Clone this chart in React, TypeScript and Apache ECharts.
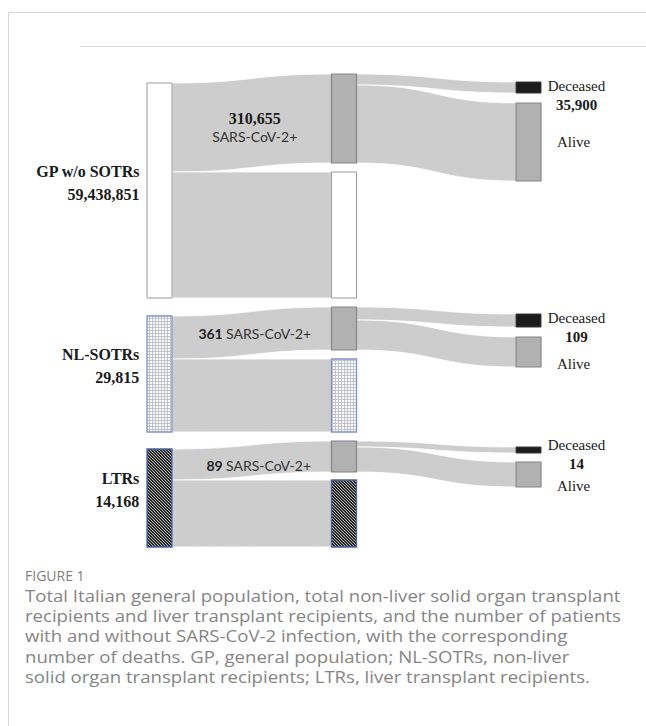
import React, { useEffect, useRef } from "react";
import * as echarts from "echarts";

// ---- data ----
const groupNames = ["GP w/o SOTRs", "NL-SOTRs", "LTRs"];
const groupTotals = ["59,438,851", "29,815", "14,168"];
const positiveCounts = ["310,655", "361", "89"];
const deathCounts = ["35,900", "109", "14"];
const positiveLabel = "SARS-CoV-2+";
const outcomeNames = ["Deceased", "Alive"];

// band thicknesses as drawn (the figure is schematic, not to scale)
const toPositive = [89, 43, 31];
const toNegative = [126, 73, 67];
const positiveToDeceased = [11, 13, 6];
const positiveToAlive = [78, 30, 25];

const captionTitle = "FIGURE 1";
const captionLines = [
  "Total Italian general population, total non-liver solid organ transplant",
  "recipients and liver transplant recipients, and the number of patients",
  "with and without SARS-CoV-2 infection, with the corresponding",
  "number of deaths. GP, general population; NL-SOTRs, non-liver",
  "solid organ transplant recipients; LTRs, liver transplant recipients.",
];

// ---- layout constants ----
const sectionTop = [74, 307, 441];
const sectionGap = [9, 9, 8];
const rightOffset = [8, 7, 6];
const rightGap = [10, 10, 9];
const decLabelDy = [-5.5, -5, -11];
const aliveLabelDy = [0, 12, 11];
const edgeLabelOffset = [
  [3, 4],
  [3, 0],
  [7, 4.5],
];

const SERIF = "'Liberation Serif', 'Times New Roman', serif";
const SANS = "Lato, 'Open Sans', sans-serif";

function makePattern(size: number, draw: (ctx: CanvasRenderingContext2D) => void) {
  const c = document.createElement("canvas");
  c.width = size;
  c.height = size;
  const ctx = c.getContext("2d")!;
  draw(ctx);
  return { image: c.toDataURL(), repeat: "repeat", imageWidth: size, imageHeight: size };
}

function buildSeries(i: number, fills: any[]) {
  const pos = toPositive[i];
  const neg = toNegative[i];
  const dec = positiveToDeceased[i];
  const alive = positiveToAlive[i];
  const gap = sectionGap[i];
  const posNode = Math.max(pos, dec + alive);
  const col1 = pos + neg;
  const H = posNode + neg + gap;
  const id = (k: string) => `${k}${i}`;

  const greyNode = { color: "#b1b1b1", borderColor: "#858585", borderWidth: 1.2 };
  const blackNode = { color: "#1c1c1c", borderColor: "#3a3a3a", borderWidth: 1 };
  const groupStyle = fills[i];

  const nodes = [
    {
      name: id("g"),
      localY: (H - col1) / H,
      itemStyle: groupStyle,
      label: {
        show: true,
        position: "left",
        distance: 7,
        offset: [0, -8],
        formatter: `${groupNames[i]}\n${groupTotals[i]}`,
        fontFamily: SERIF,
        fontWeight: "bold",
        fontSize: 16,
        lineHeight: 23,
        color: "#1a1a1a",
        align: "right",
      },
    },
    { name: id("p"), itemStyle: greyNode },
    { name: id("n"), itemStyle: groupStyle },
    {
      name: id("d"),
      localY: rightOffset[i] / H,
      itemStyle: blackNode,
      label: {
        show: true,
        position: ["100%", 0],
        offset: [35, decLabelDy[i]],
        align: "center",
        verticalAlign: "top",
        formatter: `{d|${outcomeNames[0]}}\n{n|${deathCounts[i]}}`,
        rich: {
          d: { fontFamily: SERIF, fontSize: 15, lineHeight: 19, color: "#1a1a1a", align: "center" },
          n: { fontFamily: SERIF, fontSize: 15, fontWeight: "bold", lineHeight: 19, color: "#1a1a1a", align: "center" },
        },
      },
    },
    {
      name: id("a"),
      localY: (rightOffset[i] + dec + rightGap[i]) / H,
      itemStyle: greyNode,
      label: {
        show: true,
        position: ["100%", "50%"],
        offset: [32, aliveLabelDy[i]],
        align: "center",
        verticalAlign: "middle",
        formatter: outcomeNames[1],
        fontFamily: SERIF,
        fontSize: 15,
        color: "#1a1a1a",
      },
    },
  ];

  const edgeFormatter =
    i === 0
      ? `{g|${positiveCounts[i]}}\n{s|${positiveLabel}}`
      : `{b|${positiveCounts[i]}} {s|${positiveLabel}}`;

  const links = [
    {
      source: id("g"),
      target: id("p"),
      value: pos,
      edgeLabel: {
        show: true,
        formatter: edgeFormatter,
        offset: edgeLabelOffset[i],
        align: "center",
        rich: {
          g: { fontFamily: SERIF, fontWeight: "bold", fontSize: 16, lineHeight: 18, color: "#1a1a1a", align: "center" },
          s: { fontFamily: SANS, fontSize: 14, lineHeight: 18, color: "#333333", align: "center" },
          b: { fontFamily: SANS, fontWeight: "bold", fontSize: 14, lineHeight: 18, color: "#222222" },
        },
      },
    },
    { source: id("g"), target: id("n"), value: neg },
    { source: id("p"), target: id("d"), value: dec },
    { source: id("p"), target: id("a"), value: alive },
  ];

  return {
    type: "sankey",
    left: 147,
    width: 394,
    top: sectionTop[i],
    height: H,
    nodeWidth: 25,
    nodeGap: gap,
    nodeAlign: "left",
    layoutIterations: 0,
    draggable: false,
    silent: true,
    emphasis: { disabled: true },
    label: { show: false },
    edgeLabel: { show: false },
    lineStyle: { color: "#cdcdcd", opacity: 1, curveness: 0.5, borderColor: "#ffffff", borderWidth: 0.8 },
    data: nodes,
    links,
  };
}

export default function App() {
  const ref = useRef<HTMLDivElement>(null);

  useEffect(() => {
    const el = ref.current!;
    const chart = echarts.init(el, undefined, { renderer: "svg" });

    const plain = { color: "#ffffff", borderColor: "#9a9a9a", borderWidth: 1 };
    const grid = {
      color: makePattern(3, (ctx) => {
        ctx.fillStyle = "#ffffff";
        ctx.fillRect(0, 0, 3, 3);
        ctx.fillStyle = "#bfc3cc";
        ctx.fillRect(2, 0, 1, 3);
        ctx.fillRect(0, 2, 3, 1);
      }),
      borderColor: "#7d93c6",
      borderWidth: 1.3,
    };
    const hatch = {
      color: makePattern(3, (ctx) => {
        for (let x = 0; x < 3; x++) {
          for (let y = 0; y < 3; y++) {
            ctx.fillStyle = (x - y + 6) % 3 === 0 ? "#b8b8b8" : "#262626";
            ctx.fillRect(x, y, 1, 1);
          }
        }
      }),
      borderColor: "#4a62a0",
      borderWidth: 1.3,
    };
    const fills = [plain, grid, hatch];

    // stretch caption font to the figure's caption width
    const captionFont = "16.5px 'Open Sans'";
    const mc = document.createElement("canvas").getContext("2d")!;
    mc.font = captionFont;
    const w = mc.measureText(captionLines[0]).width || 530;
    const captionScale = 596 / w;

    const graphic: any[] = [
      { type: "line", shape: { x1: 8.5, y1: 12.5, x2: 646, y2: 12.5 }, style: { stroke: "#d6d6d6", lineWidth: 1 }, silent: true },
      { type: "line", shape: { x1: 8.5, y1: 12.5, x2: 8.5, y2: 726 }, style: { stroke: "#d6d6d6", lineWidth: 1 }, silent: true },
      { type: "line", shape: { x1: 80, y1: 46.5, x2: 646, y2: 46.5 }, style: { stroke: "#dcdcdc", lineWidth: 1 }, silent: true },
      {
        type: "text",
        x: 25,
        y: 575,
        silent: true,
        style: {
          text: captionTitle,
          fontFamily: "'Open Sans', sans-serif",
          fontSize: 14,
          fill: "#7f7f7f",
          align: "left",
          verticalAlign: "middle",
        },
      },
      ...captionLines.map((t, k) => ({
        type: "text",
        x: 25,
        y: 595.5 + k * 20.2,
        scaleX: captionScale,
        silent: true,
        style: {
          text: t,
          fontFamily: "'Open Sans', sans-serif",
          fontSize: 16.5,
          fill: "#858585",
          align: "left",
          verticalAlign: "middle",
        },
      })),
    ];

    chart.setOption({
      animation: false,
      backgroundColor: "#ffffff",
      graphic,
      series: [0, 1, 2].map((i) => buildSeries(i, fills)),
    });

    return () => chart.dispose();
  }, []);

  return (
    <div
      ref={ref}
      style={{ position: "fixed", left: 0, top: 0, width: 646, height: 726, background: "#fff" }}
    />
  );
}
